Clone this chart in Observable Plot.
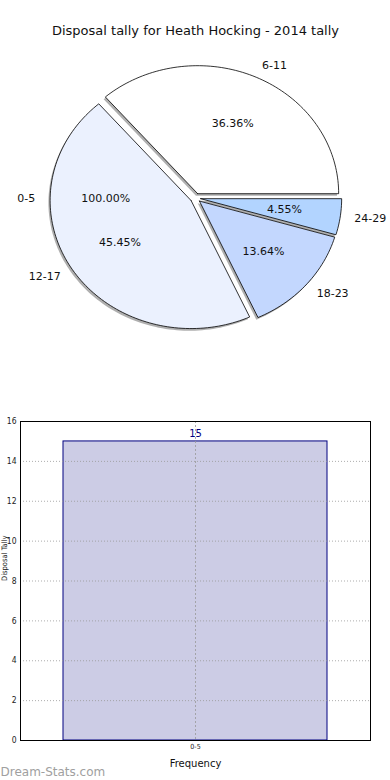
<!DOCTYPE html>
<html>
<head>
<meta charset="utf-8">
<script src="https://cdn.jsdelivr.net/npm/d3@7"></script>
<script src="https://cdn.jsdelivr.net/npm/@observablehq/plot@0.6"></script>
<style>
  html, body { margin: 0; padding: 0; background: #fff; }
  #chart { width: 390px; height: 780px; overflow: hidden; }
  svg { display: block; }
</style>
</head>
<body>
<div id="chart"></div>
<script>
// ---- data ----
const titleText = "Disposal tally for Heath Hocking - 2014 tally";
const pieLabels = ["6-11", "12-17", "18-23", "24-29"];
const pieValues = [8, 10, 3, 1];
const pieColors = ["#ffffff", "#ebf1fe", "#c3d7fe", "#b2d4ff"];
const emptyLabel = "0-5";
const emptyPct = "100.00%";
const barCategories = ["0-5"];
const barValues = [15];
const yTicks = [0, 2, 4, 6, 8, 10, 12, 14, 16];
const yLabel = "Disposal Tally";
const xLabel = "Frequency";
const watermark = "Dream-Stats.com";

// ---- pie geometry (derived from the data) ----
const total = d3.sum(pieValues);
const explode = 0.037;
const rad = Math.PI / 180;
let acc = 0;
const wedges = pieValues.map((v, i) => {
  const a0 = acc / total * 360;
  acc += v;
  const a1 = acc / total * 360;
  const mid = (a0 + a1) / 2;
  const ox = explode * Math.cos(mid * rad), oy = explode * Math.sin(mid * rad);
  const pts = [{x: ox, y: oy}];
  const n = Math.max(4, Math.ceil((a1 - a0) / 1.5));
  for (let k = 0; k <= n; k++) {
    const a = (a0 + (a1 - a0) * k / n) * rad;
    pts.push({x: ox + Math.cos(a), y: oy + Math.sin(a)});
  }
  pts.push({x: ox, y: oy});
  return {label: pieLabels[i], value: v, color: pieColors[i], mid, ox, oy, pts,
          pct: (v / total * 100).toFixed(2) + "%"};
});

const outerLabels = wedges.map(w => ({
  x: w.ox + 1.1 * Math.cos(w.mid * rad),
  y: w.oy + 1.1 * Math.sin(w.mid * rad),
  text: w.label,
  right: Math.cos(w.mid * rad) >= 0
}));
outerLabels.push({x: -1.1 - explode, y: 0, text: emptyLabel, right: false});
const pctLabels = wedges.map(w => ({
  x: w.ox + 0.6 * Math.cos(w.mid * rad),
  y: w.oy + 0.6 * Math.sin(w.mid * rad),
  text: w.pct
}));
pctLabels.push({x: -0.6 - explode, y: 0, text: emptyPct});

const cx = 195, cy = 197.5, Rx = 141, Ry = 128, pieW = 390, pieH = 380;
const pieFont = "DejaVu Sans, sans-serif";

const pieMarks = [];
wedges.forEach(w => {
  pieMarks.push(Plot.line(w.pts, {
    x: d => d.x - 0.012, y: d => d.y - 0.017,
    fill: "#4d4d4d", fillOpacity: 0.45, stroke: "none"
  }));
});
wedges.forEach(w => {
  pieMarks.push(Plot.line(w.pts, {
    x: "x", y: "y", fill: w.color, stroke: "#000", strokeWidth: 0.8, strokeLinejoin: "miter"
  }));
});
pieMarks.push(Plot.text(pctLabels, {x: "x", y: "y", text: "text", fontSize: 11, fill: "#111"}));
pieMarks.push(Plot.text(outerLabels.filter(d => d.right), {x: "x", y: "y", text: "text", textAnchor: "start", fontSize: 11, fill: "#111"}));
pieMarks.push(Plot.text(outerLabels.filter(d => !d.right), {x: "x", y: "y", text: "text", textAnchor: "end", fontSize: 11, fill: "#111"}));
pieMarks.push(Plot.text([titleText], {frameAnchor: "top", dy: 25, text: d => d, fontSize: 13, fill: "#111"}));

const pie = Plot.plot({
  width: pieW, height: pieH,
  margin: 0,
  style: {fontFamily: pieFont, background: "transparent"},
  x: {domain: [-cx / Rx, (pieW - cx) / Rx], axis: null},
  y: {domain: [-(pieH - cy) / Ry, cy / Ry], axis: null},
  marks: pieMarks
});

// ---- bar chart ----
const barData = barCategories.map((c, i) => ({cat: c, val: barValues[i]}));
const bar = Plot.plot({
  width: 390, height: 400,
  marginTop: 41, marginBottom: 40, marginLeft: 20, marginRight: 20,
  style: {fontFamily: "DejaVu Sans Condensed, DejaVu Sans, sans-serif", background: "transparent"},
  x: {domain: barCategories, padding: 0.14, label: null, tickSize: 0, tickPadding: 5},
  y: {domain: [0, 16], ticks: yTicks, label: null, tickSize: 0, tickPadding: 4},
  marks: [
    Plot.barY(barData, {x: "cat", y: "val", fill: "#ccccE5", stroke: "#000080", strokeWidth: 1}),
    Plot.gridY(yTicks.slice(1, -1), {stroke: "#999", strokeOpacity: 0.8, strokeDasharray: "1,2", strokeWidth: 1}),
    Plot.gridX(barCategories, {stroke: "#999", strokeOpacity: 0.8, strokeDasharray: "2,2", strokeWidth: 1}),
    Plot.axisY(yTicks, {tickSize: 0, tickPadding: 4, fontSize: 8.5, fill: "#222", label: null}),
    Plot.axisX(barCategories, {tickSize: 0, tickPadding: 4, fontSize: 7, fill: "#222", label: null}),
    Plot.text(barData, {x: "cat", y: "val", text: d => String(d.val), dy: -8, fill: "#000080", fontSize: 10, fontFamily: "DejaVu Sans, sans-serif"}),
    Plot.frame({stroke: "#000", strokeWidth: 1}),
    Plot.text([xLabel], {frameAnchor: "bottom", dy: 26, text: d => d, fontSize: 10, fill: "#111", fontFamily: "DejaVu Sans, sans-serif"}),
    Plot.text([yLabel], {frameAnchor: "left", dx: -16, rotate: -90, text: d => d, fontSize: 7.5, fill: "#222"}),
    Plot.text([watermark], {frameAnchor: "bottom-left", dx: -20, dy: 35, textAnchor: "start", text: d => d, fontSize: 12, fill: "#a0a0a0", fontFamily: "DejaVu Sans, sans-serif"})
  ]
});

const root = document.getElementById("chart");
root.appendChild(pie);
root.appendChild(bar);
</script>
</body>
</html>
